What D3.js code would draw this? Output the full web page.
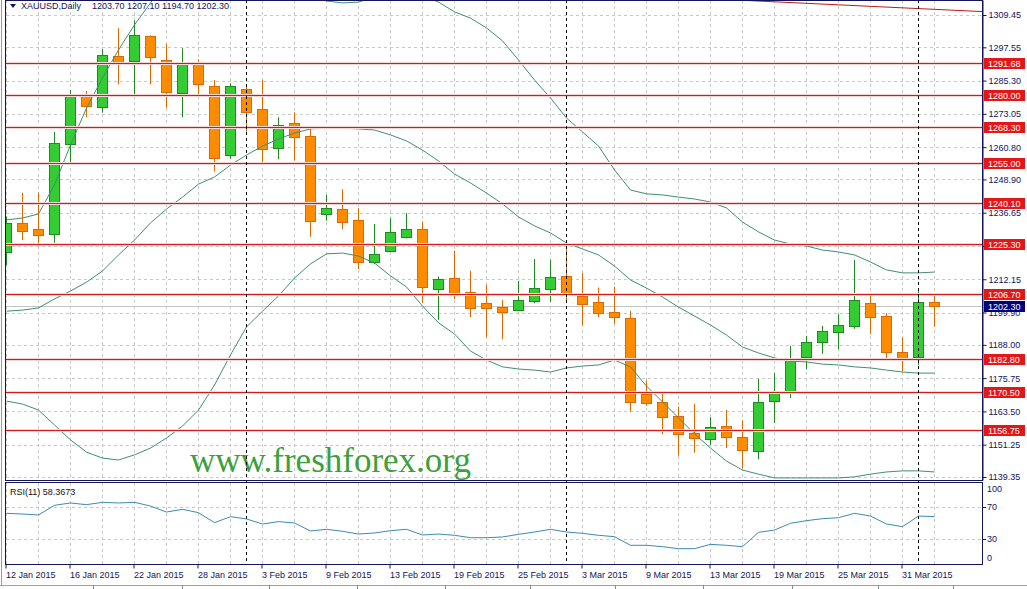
<!DOCTYPE html>
<html><head><meta charset="utf-8">
<script src="https://cdn.jsdelivr.net/npm/d3@7"></script>
<style>
html,body{margin:0;padding:0;background:#fff;}
svg{display:block;}
text{font-family:"Liberation Sans",Arial,sans-serif;}
text.wm{font-family:"Liberation Serif","Times New Roman",serif;}
</style></head><body>
<svg id="chart" width="1027" height="589"></svg>
<script>
// ---------- DATA ----------
const symbolName = "XAUUSD,Daily";
const dates = ["2015-01-12","2015-01-13","2015-01-14","2015-01-15","2015-01-16","2015-01-19","2015-01-20","2015-01-21","2015-01-22","2015-01-23",
"2015-01-26","2015-01-27","2015-01-28","2015-01-29","2015-01-30","2015-02-02","2015-02-03","2015-02-04","2015-02-05","2015-02-06",
"2015-02-09","2015-02-10","2015-02-11","2015-02-12","2015-02-13","2015-02-16","2015-02-17","2015-02-18","2015-02-19","2015-02-20",
"2015-02-23","2015-02-24","2015-02-25","2015-02-26","2015-02-27","2015-03-02","2015-03-03","2015-03-04","2015-03-05","2015-03-06",
"2015-03-09","2015-03-10","2015-03-11","2015-03-12","2015-03-13","2015-03-16","2015-03-17","2015-03-18","2015-03-19","2015-03-20",
"2015-03-23","2015-03-24","2015-03-25","2015-03-26","2015-03-27","2015-03-30","2015-03-31","2015-04-01","2015-04-02"];
const openVals  = [1222.3,1232.8,1230.5,1228.7,1262.2,1279.6,1275.7,1294.4,1292.6,1301.7,1292.8,1280.6,1291.7,1283.2,1257.8,1282.1,1274.7,1260.4,1269.6,1264.8,
1236.1,1237.9,1233.9,1218.6,1222.4,1227.6,1230.5,1208.7,1212.5,1207.4,1203.3,1202.0,1200.7,1204.1,1208.5,1213.4,1206.0,1203.8,1200.1,1197.8,
1169.9,1166.9,1161.7,1155.5,1153.3,1158.3,1154.0,1149.0,1167.1,1170.6,1183.3,1189.0,1192.9,1195.1,1203.3,1198.7,1185.3,1183.3,1203.7];
const highVals  = [1235.2,1244.0,1244.0,1266.4,1281.8,1281.5,1296.9,1304.6,1307.4,1302.0,1298.7,1297.2,1293.1,1285.5,1284.3,1283.1,1285.5,1271.8,1273.6,1268.3,
1243.2,1245.3,1238.3,1232.5,1234.6,1236.5,1233.4,1213.1,1222.7,1215.3,1210.1,1204.5,1211.6,1219.6,1219.3,1223.3,1214.4,1209.1,1209.4,1200.5,
1174.8,1170.4,1165.3,1166.3,1161.4,1164.1,1160.1,1175.5,1177.6,1187.6,1191.3,1195.0,1199.3,1219.3,1206.0,1199.7,1190.7,1208.2,1207.1];
const lowVals   = [1217.4,1226.6,1224.4,1225.6,1254.5,1271.8,1273.5,1283.9,1279.4,1283.9,1275.3,1271.8,1279.4,1251.8,1256.5,1266.5,1255.1,1256.3,1255.8,1227.8,
1233.7,1230.5,1215.9,1217.8,1222.3,1227.2,1203.5,1197.2,1204.8,1198.2,1190.8,1190.1,1200.5,1203.3,1203.9,1204.3,1195.2,1198.2,1195.7,1163.4,
1165.5,1155.1,1147.2,1148.3,1151.2,1150.0,1142.6,1145.9,1159.2,1168.4,1179.0,1184.7,1186.4,1193.9,1192.0,1182.2,1178.2,1180.6,1194.7];
const closeVals = [1232.8,1229.7,1228.3,1262.2,1279.7,1276.0,1294.7,1292.3,1302.1,1293.9,1281.0,1292.0,1283.9,1256.7,1283.2,1273.6,1260.0,1268.9,1264.4,1233.5,
1238.3,1233.1,1218.4,1221.4,1229.4,1230.6,1209.0,1212.2,1206.3,1201.5,1201.5,1200.0,1204.5,1208.8,1212.9,1206.6,1203.2,1199.9,1198.2,1166.7,
1166.7,1161.2,1155.1,1153.6,1157.9,1154.2,1149.1,1167.1,1170.9,1182.5,1189.0,1193.1,1195.4,1204.5,1198.0,1185.5,1182.8,1203.7,1202.3];
const bbUpper  = [1234.0,1234.7,1236.2,1246.9,1261.6,1275.2,1286.3,1296.6,1305.8,1313.9,1322.3,1326.8,1330.4,1327.9,1324.2,1321.6,1321.6,1320.9,1318.7,1316.8,
1314.6,1313.9,1314.2,1316.1,1316.8,1316.5,1316.5,1314.2,1310.6,1308.3,1304.7,1299.9,1292.9,1285.5,1278.9,1271.5,1266.4,1261.2,1252.4,1245.0,
1243.6,1243.2,1242.4,1241.7,1240.6,1238.4,1233.2,1229.6,1226.6,1225.1,1224.4,1222.9,1222.2,1221.1,1218.5,1215.6,1214.5,1214.5,1214.8];
const bbMiddle = [1200.4,1200.8,1201.6,1204.9,1207.8,1211.1,1215.2,1221.1,1226.6,1232.9,1238.0,1242.4,1247.2,1249.8,1254.2,1257.9,1261.2,1263.8,1266.0,1267.5,
1267.8,1267.8,1267.5,1267.1,1265.3,1263.1,1259.7,1255.7,1250.9,1247.6,1243.9,1239.9,1235.1,1231.8,1229.2,1225.5,1223.3,1221.1,1217.0,1211.9,
1208.9,1205.6,1201.9,1198.6,1195.3,1191.6,1187.2,1185.0,1183.2,1182.0,1181.7,1180.9,1180.6,1179.9,1179.5,1178.7,1178.0,1177.6,1177.6];
const bbLower  = [1167.3,1166.2,1164.0,1158.5,1153.0,1148.5,1146.3,1145.6,1147.5,1150.0,1153.7,1158.1,1164.0,1173.2,1184.3,1194.6,1200.4,1206.0,1212.6,1217.8,
1221.5,1221.8,1220.7,1218.1,1213.4,1209.3,1202.3,1196.1,1192.0,1185.7,1182.4,1179.9,1179.1,1178.7,1178.0,1179.5,1180.2,1180.6,1182.4,1179.9,
1172.8,1167.0,1161.1,1155.2,1150.0,1145.2,1141.9,1140.4,1139.0,1139.0,1139.0,1139.0,1139.0,1139.4,1140.4,1141.2,1141.6,1141.6,1141.2];
const rsiVals  = [62.5,61.6,60.4,72.5,75.4,73.3,76.2,75.4,76.2,71.6,64.1,67.5,63.3,50.8,58.3,55.4,49.1,52.1,50.4,40.4,
42.5,40.0,36.6,37.9,40.8,42.5,35.4,36.6,35.0,32.0,32.0,32.9,36.2,39.1,42.5,39.1,37.5,35.0,33.3,22.5,
22.5,20.8,18.3,18.3,23.7,22.5,20.8,38.7,41.6,50.0,53.3,55.8,57.0,62.5,59.1,49.1,45.8,59.1,58.3673];
const levels = [1291.68,1280.00,1268.30,1255.00,1240.10,1225.30,1206.70,1182.80,1170.50,1156.75];
const bidPrice = 1202.30;
const priceTicks = [1309.45,1297.55,1285.30,1273.05,1260.80,1248.90,1236.65,1224.40,1212.15,1199.90,1188.00,1175.75,1163.50,1151.25,1139.35];
const priceExtent = [1138.24, 1314.97];
const rsiTicks = [100,70,30,0];
const rsiGrid = [70,30];
const tickDates = ["2015-01-12","2015-01-16","2015-01-22","2015-01-28","2015-02-03","2015-02-09","2015-02-13","2015-02-19","2015-02-25","2015-03-03","2015-03-09","2015-03-13","2015-03-19","2015-03-25","2015-03-31"];
const tickLabels = ["12 Jan 2015","16 Jan 2015","22 Jan 2015","28 Jan 2015","3 Feb 2015","9 Feb 2015","13 Feb 2015","19 Feb 2015","25 Feb 2015","3 Mar 2015","9 Mar 2015","13 Mar 2015","19 Mar 2015","25 Mar 2015","31 Mar 2015"];
const periodSeparators = ["2015-02-02","2015-03-02","2015-04-01"];
const trendIdx = [46.2, 61];
const trendPrice = [1314.8, 1310.7];
const watermark = "www.freshforex.org";

// ---------- LAYOUT ----------
const svg = d3.select("#chart");
const L = 6, R = 982, mainTop = 0, mainBot = 480, rsiTop = 483, rsiBot = 564;
const navy = "#14145a";

const x = d3.scaleBand().domain(dates).range([-1.5, -1.5 + 16 * dates.length]).paddingInner(0).paddingOuter(0);
const cx = d => x(d) + x.bandwidth() / 2;
const xi = d3.scaleLinear().domain([0, dates.length - 1]).range([cx(dates[0]), cx(dates[dates.length - 1])]);
const yP = d3.scaleLinear().domain(priceExtent).range([mainBot, mainTop]);
const yR = d3.scaleLinear().domain([0, 100]).range([563.3, 483.3]);
const crisp = v => Math.round(v) + 0.5;

const bars = dates.map((d, i) => ({d, i, o: openVals[i], h: highVals[i], l: lowVals[i], c: closeVals[i]}));

const defs = svg.append("defs");
defs.append("clipPath").attr("id", "clipMain").append("rect").attr("x", L).attr("y", mainTop).attr("width", R - L).attr("height", mainBot - mainTop);
defs.append("clipPath").attr("id", "clipRsi").append("rect").attr("x", L).attr("y", rsiTop).attr("width", R - L).attr("height", rsiBot - rsiTop);

svg.append("rect").attr("width", 1027).attr("height", 589).attr("fill", "#fff");
svg.append("line").attr("x1", 1.5).attr("x2", 1.5).attr("y1", 0).attr("y2", 585).attr("stroke", "#9a9a9a");

// ---------- MAIN PANEL ----------
const main = svg.append("g").attr("clip-path", "url(#clipMain)");
const gridDates = dates.filter((d, i) => i % 2 === 0);
main.selectAll(".vg").data(gridDates).join("line")
  .attr("x1", d => crisp(cx(d) - 0.5)).attr("x2", d => crisp(cx(d) - 0.5))
  .attr("y1", mainTop).attr("y2", mainBot)
  .attr("stroke", "#c9c9c9").attr("stroke-dasharray", "3,3");
main.selectAll(".hg").data(priceTicks).join("line")
  .attr("x1", L).attr("x2", R)
  .attr("y1", d => crisp(yP(d))).attr("y2", d => crisp(yP(d)))
  .attr("stroke", "#c9c9c9").attr("stroke-dasharray", "3,3");
main.append("text").attr("class", "wm").attr("x", 190).attr("y", 472).text(watermark)
  .attr("font-size", 35).attr("fill", "#3ca03c");
main.append("line").attr("x1", L).attr("x2", R).attr("y1", crisp(yP(bidPrice))).attr("y2", crisp(yP(bidPrice))).attr("stroke", "#c4c4c4");
svg.selectAll(".sep").data(periodSeparators).join("line")
  .attr("x1", d => crisp(cx(d) - 0.5)).attr("x2", d => crisp(cx(d) - 0.5))
  .attr("y1", mainTop).attr("y2", rsiBot)
  .attr("stroke", "#000").attr("stroke-dasharray", "3,3");

// candles
const greenFill = "#33cc33", greenStroke = "#1f8a1f", orangeFill = "#ff8c00", orangeStroke = "#dc6a00";
const cg = main.append("g");
cg.selectAll(".wick").data(bars).join("line")
  .attr("x1", b => crisp(cx(b.d) - 0.5)).attr("x2", b => crisp(cx(b.d) - 0.5))
  .attr("y1", b => yP(b.h)).attr("y2", b => yP(b.l))
  .attr("stroke", b => b.c >= b.o ? greenStroke : orangeStroke);
cg.selectAll(".body").data(bars).join("rect")
  .attr("x", b => Math.round(cx(b.d) - 5.5) + 0.5)
  .attr("width", 10)
  .attr("y", b => crisp(yP(Math.max(b.o, b.c))))
  .attr("height", b => Math.max(1, Math.round(Math.abs(yP(b.o) - yP(b.c)))))
  .attr("fill", b => b.c >= b.o ? greenFill : orangeFill)
  .attr("stroke", b => b.c >= b.o ? greenStroke : orangeStroke);

// bollinger bands
const bandColor = "#3f8f70";
[bbUpper, bbMiddle, bbLower].forEach(arr => {
  main.append("path").datum(arr)
    .attr("d", d3.line().x((v, i) => cx(dates[i])).y(v => yP(v)))
    .attr("fill", "none").attr("stroke", bandColor).attr("stroke-width", 1);
});

// level lines (with faint halo)
main.selectAll(".lvlh").data(levels).join("line")
  .attr("x1", L).attr("x2", R)
  .attr("y1", d => crisp(yP(d))).attr("y2", d => crisp(yP(d)))
  .attr("stroke", "#f7d4d4").attr("stroke-width", 3);
main.selectAll(".lvl").data(levels).join("line")
  .attr("x1", L).attr("x2", R)
  .attr("y1", d => crisp(yP(d))).attr("y2", d => crisp(yP(d)))
  .attr("stroke", "#d01c1c");
main.append("line")
  .attr("x1", xi(trendIdx[0])).attr("y1", yP(trendPrice[0]))
  .attr("x2", xi(trendIdx[1])).attr("y2", yP(trendPrice[1]))
  .attr("stroke", "#c01818");

// title
svg.append("path").attr("d", "M10,4 L16,4 L13,8 Z").attr("fill", navy);
svg.append("text").attr("x", 21).attr("y", 9).attr("font-size", 9).attr("fill", navy).text(symbolName);
const fmt = d3.format(".2f");
const last = dates.length - 1;
svg.append("text").attr("x", 92).attr("y", 9).attr("font-size", 9).attr("fill", navy)
  .text([openVals[last], highVals[last], lowVals[last], closeVals[last]].map(fmt).join(" "));

// ---------- RSI PANEL ----------
const rsiG = svg.append("g").attr("clip-path", "url(#clipRsi)");
rsiG.selectAll(".vg").data(gridDates).join("line")
  .attr("x1", d => crisp(cx(d) - 0.5)).attr("x2", d => crisp(cx(d) - 0.5))
  .attr("y1", rsiTop).attr("y2", rsiBot)
  .attr("stroke", "#c9c9c9").attr("stroke-dasharray", "3,3");
rsiG.selectAll(".hg").data(rsiGrid).join("line")
  .attr("x1", L).attr("x2", R)
  .attr("y1", d => crisp(yR(d))).attr("y2", d => crisp(yR(d)))
  .attr("stroke", "#c9c9c9").attr("stroke-dasharray", "3,3");
rsiG.append("path").datum(rsiVals)
  .attr("d", d3.line().x((v, i) => cx(dates[i])).y(v => yR(v)))
  .attr("fill", "none").attr("stroke", "#3b8bb3").attr("stroke-width", 1);
svg.append("text").attr("x", 10).attr("y", 495).attr("font-size", 9).attr("fill", "#111")
  .text("RSI(11) " + d3.format(".4f")(rsiVals[last]));

// borders
svg.append("rect").attr("x", 5.5).attr("y", 0.5).attr("width", R - 5).attr("height", mainBot).attr("fill", "none").attr("stroke", navy);
svg.append("rect").attr("x", 5.5).attr("y", rsiTop - 0.5).attr("width", R - 5).attr("height", rsiBot - rsiTop + 1).attr("fill", "none").attr("stroke", navy);

// ---------- AXES ----------
const yAxis = d3.axisRight(yP).tickValues(priceTicks).tickFormat(fmt).tickSize(4).tickSizeOuter(0).tickPadding(2);
const ya = svg.append("g").attr("transform", `translate(${R + 0.5},0)`).call(yAxis);
ya.select(".domain").attr("stroke", navy);
ya.selectAll(".tick line").attr("stroke", navy);
ya.selectAll(".tick text").attr("font-size", 9).attr("fill", navy).attr("font-family", "'Liberation Sans',Arial,sans-serif");

const ra = svg.append("g");
ra.selectAll("text").data(rsiTicks).join("text")
  .attr("x", 987).attr("y", d => Math.min(558, Math.max(489, yR(d))))
  .attr("dy", "0.32em").attr("font-size", 9).attr("fill", navy).text(d => d);
ra.selectAll("line").data(rsiGrid).join("line")
  .attr("x1", R).attr("x2", R + 4).attr("y1", d => crisp(yR(d))).attr("y2", d => crisp(yR(d))).attr("stroke", navy);

// level labels
const lv = svg.append("g");
lv.selectAll("rect").data(levels).join("rect")
  .attr("x", 984).attr("width", 41).attr("y", d => Math.round(yP(d)) - 5).attr("height", 11).attr("fill", "#e41616");
lv.selectAll("text").data(levels).join("text")
  .attr("x", 988).attr("y", d => Math.round(yP(d)) + 0.5).attr("dy", "0.35em")
  .attr("font-size", 9).attr("fill", "#fff").text(d => fmt(d));
svg.append("rect").attr("x", 984).attr("width", 41).attr("y", Math.round(yP(bidPrice)) - 5).attr("height", 11).attr("fill", "#00007a");
svg.append("text").attr("x", 988).attr("y", Math.round(yP(bidPrice)) + 0.5).attr("dy", "0.35em")
  .attr("font-size", 9).attr("fill", "#fff").text(fmt(bidPrice));

// x axis
const labelOf = new Map(tickDates.map((d, i) => [d, tickLabels[i]]));
const xAxis = d3.axisBottom(x).tickValues(tickDates).tickFormat(d => labelOf.get(d)).tickSize(4).tickSizeOuter(0).tickPadding(3);
const xa = svg.append("g").attr("transform", `translate(-0.5,${rsiBot + 0.5})`).call(xAxis);
xa.select(".domain").remove();
xa.selectAll(".tick line").attr("stroke", navy);
xa.selectAll(".tick text").attr("text-anchor", "start").attr("x", 0).attr("font-size", 9).attr("fill", navy)
  .attr("font-family", "'Liberation Sans',Arial,sans-serif");

// bottom tab strip
const tabStops = [93, 182, 269, 357, 445, 530, 615, 703, 792, 878, 953];
svg.append("line").attr("x1", 0).attr("x2", 1027).attr("y1", 585.5).attr("y2", 585.5).attr("stroke", "#a0a0a0");
svg.selectAll(".tab").data(tabStops).join("line")
  .attr("x1", d => d + 0.5).attr("x2", d => d + 0.5).attr("y1", 585).attr("y2", 589).attr("stroke", "#8a8a8a");
</script>
</body></html>
